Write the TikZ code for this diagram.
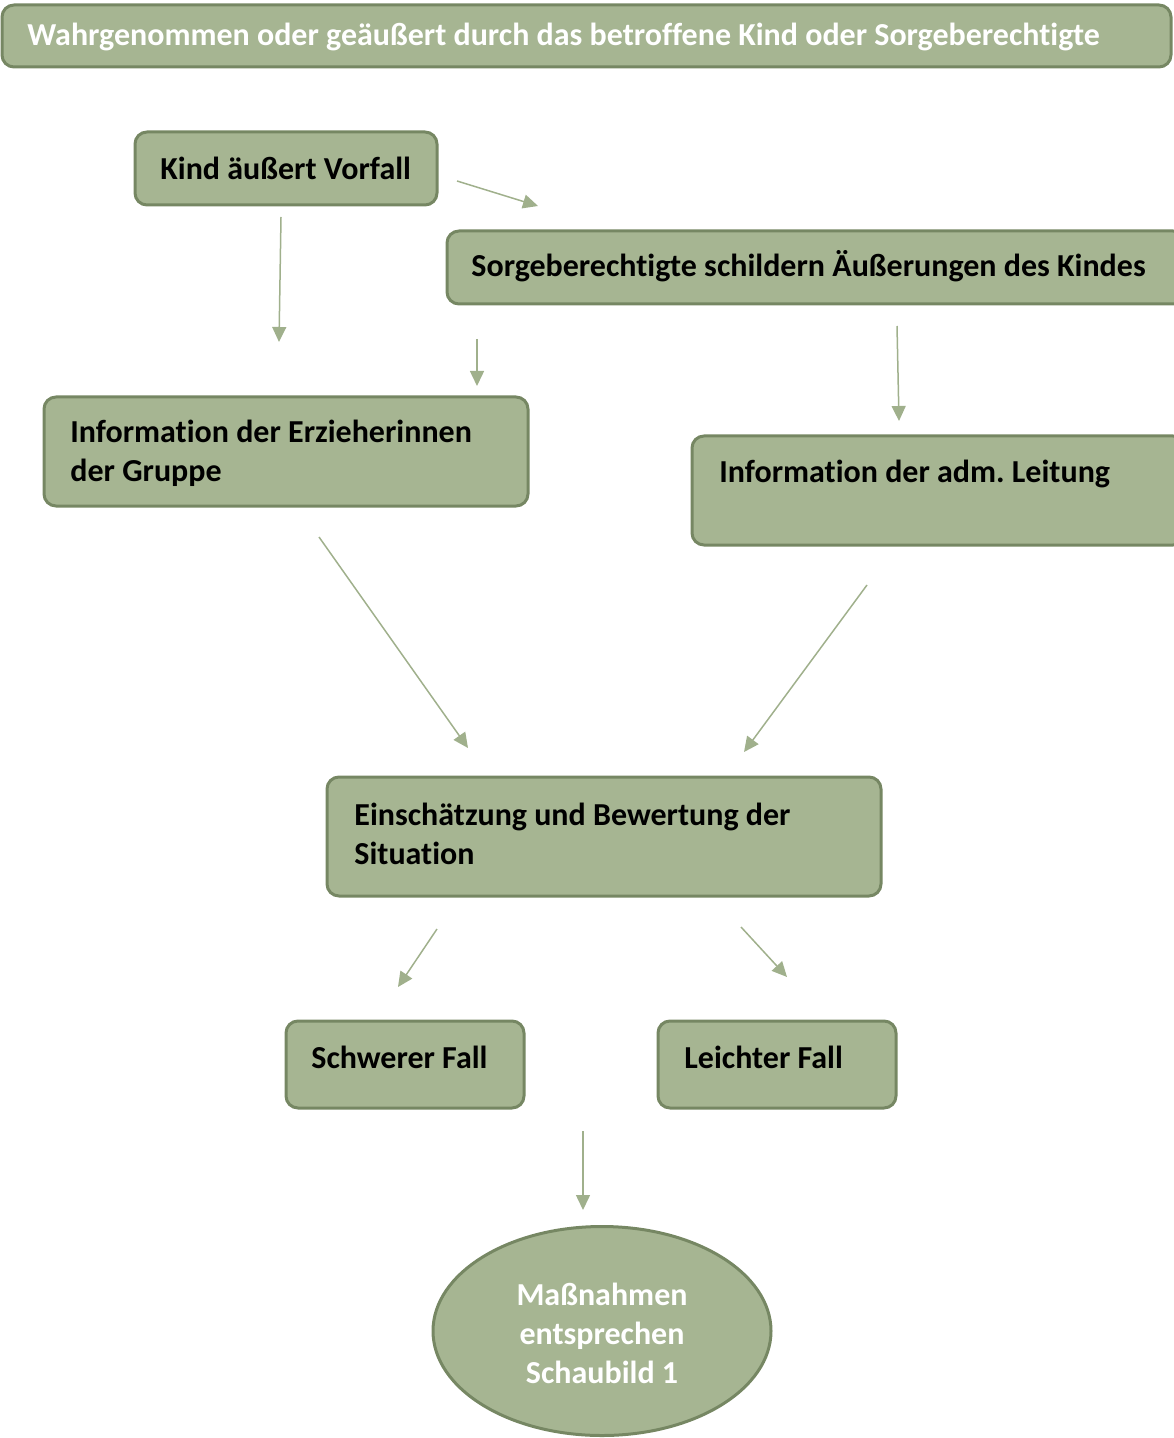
\documentclass[tikz,border=0pt]{standalone}
\usepackage{fontspec}
\setmainfont{Carlito}[Ligatures={NoCommon}]
\usetikzlibrary{arrows.meta,fit,shapes.geometric}
\definecolor{boxfill}{RGB}{166,181,146}
\definecolor{boxline}{RGB}{118,135,99}
\definecolor{arrowc}{RGB}{160,176,140}
\tikzset{
  box/.style={draw=boxline, fill=boxfill, line width=1.5pt, rounded corners=6pt, inner sep=0pt},
  lbl/.style={font=\fontsize{16}{19.5}\selectfont\bfseries, anchor=west, align=left, inner sep=0pt},
  pfeil/.style={draw=arrowc, line width=0.75pt, -{Triangle[length=7.5pt,width=7pt]}}
}
\begin{document}
\begin{tikzpicture}[x=0.5pt,y=-0.5pt]
\useasboundingbox (0,0) rectangle (1173,1438);

            % boxes
            \node[box, fit={(2,5) (1171,67)}] (banner) {};
            \node[box, fit={(135,132) (437,205)}] (kind) {};
            \node[box, fit={(447,231) (1185,304)}] (sorge) {};
            \node[box, fit={(44,397) (528,506)}] (erz) {};
            \node[box, fit={(692,436) (1185,545)}] (adm) {};
            \node[box, fit={(327,777) (881,896)}] (bewert) {};
            \node[box, fit={(286,1021) (524,1108)}] (schwer) {};
            \node[box, fit={(658,1021) (896,1108)}] (leicht) {};
            \node[box, ellipse, minimum width=169pt, minimum height=104.5pt] (mass) at (602,1331) {};

            % texts
            \node[lbl, text=white] (bannertext) at (27,37) {Wahrgenommen oder geäußert durch das betroffene Kind oder Sorgeberechtigte};
            \node[lbl] (kindtext) at (160,168) {Kind äußert Vorfall};
            \node[lbl] (sorgetext) at (471,266) {Sorgeberechtigte schildern Äußerungen des Kindes};
            \node[lbl] (erztext) at (70,453.5) {Information der Erzieherinnen\\der Gruppe};
            \node[lbl] (admtext) at (719,474) {Information der adm.\ Leitung};
            \node[lbl] (bewerttext) at (354,833.5) {Einschätzung und Bewertung der\\Situation};
            \node[lbl] (schwertext) at (311,1057) {Schwerer Fall};
            \node[lbl] (leichttext) at (684,1057) {Leichter Fall};
            \node[lbl, anchor=center, align=center, text=white] (masstext) at (602,1333) {Maßnahmen\\entsprechen\\Schaubild 1};

            % arrow ends
            \coordinate (a1) at (457,181);  \coordinate (b1) at (538,206);
            \coordinate (a2) at (281,217);  \coordinate (b2) at (279,342);
            \coordinate (a3) at (477,339);  \coordinate (b3) at (477,386);
            \coordinate (a4) at (897,326);  \coordinate (b4) at (899,421);
            \coordinate (a5) at (319,537);  \coordinate (b5) at (468,748);
            \coordinate (a6) at (867,585);  \coordinate (b6) at (744,752);
            \coordinate (a7) at (437,929);  \coordinate (b7) at (398,987);
            \coordinate (a8) at (741,927);  \coordinate (b8) at (787,977);
            \coordinate (a9) at (583,1131); \coordinate (b9) at (583,1210);

            % arrows
            \foreach \i in {1,...,9}
              \draw[pfeil] (a\i) -- (b\i);

\end{tikzpicture}
\end{document}
